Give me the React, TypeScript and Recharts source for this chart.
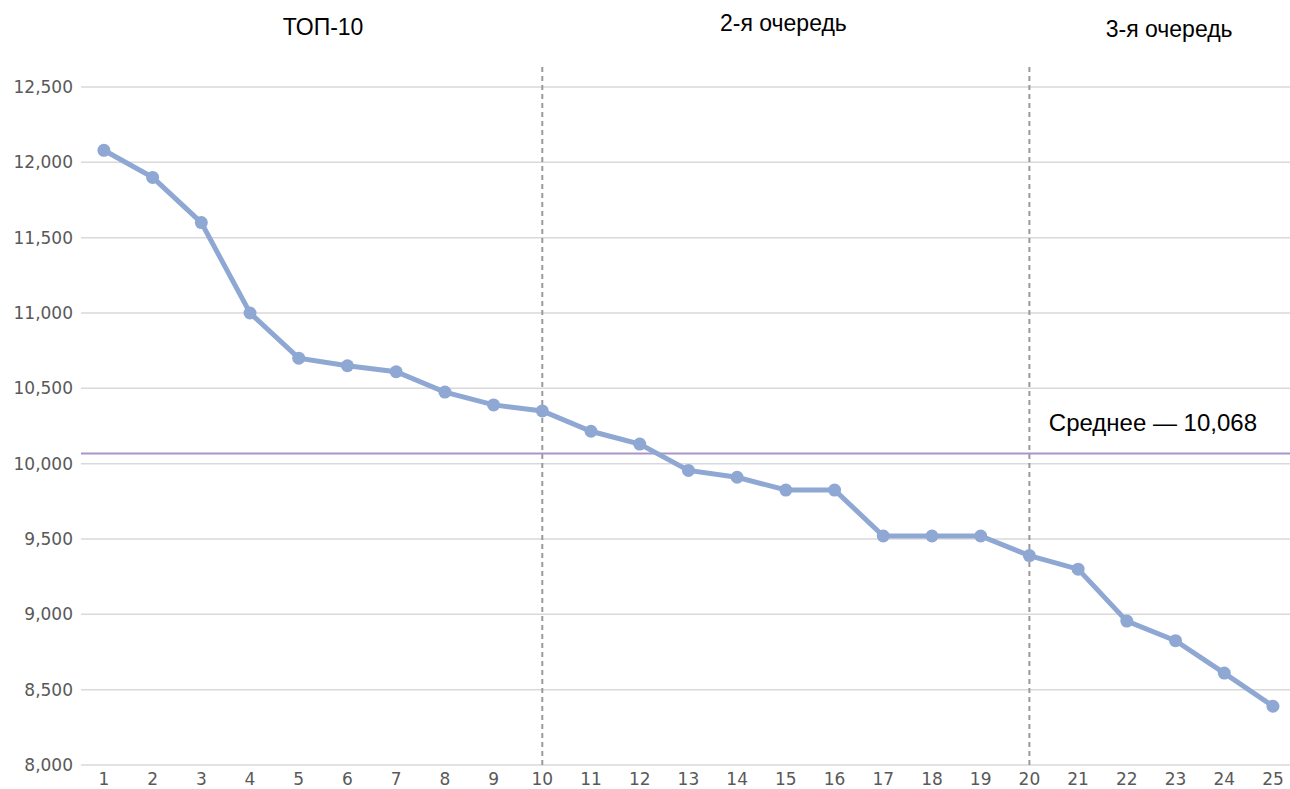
import React from 'react';
import {
  LineChart,
  Line,
  XAxis,
  YAxis,
  CartesianGrid,
  ReferenceLine,
  ReferenceDot,
} from 'recharts';

const ranks = [
  1, 2, 3, 4, 5, 6, 7, 8, 9, 10, 11, 12, 13, 14, 15, 16, 17, 18, 19, 20, 21, 22, 23, 24, 25,
];
const scores = [
  12080, 11900, 11600, 11000, 10700, 10650, 10610, 10475, 10390, 10350, 10215, 10130, 9955,
  9910, 9825, 9825, 9520, 9520, 9520, 9390, 9300, 8955, 8825, 8610, 8390,
];
const yTicks = [8000, 8500, 9000, 9500, 10000, 10500, 11000, 11500, 12000, 12500];
const average = 10068;
const groupBreaks = [10, 20];
const groupTitles = ['ТОП-10', '2-я очередь', '3-я очередь'];

const data = ranks.map((r, i) => ({ rank: r, score: scores[i] }));

const fmt = (v: number) => v.toLocaleString('en-US');

const lineColor = '#8FA7D3';
const tickStyle = { fill: '#595959', fontSize: 17, fontFamily: 'DejaVu Sans' };
const titleFont = 'Liberation Sans';

const TitleLabel = (text: string) => (props: any) => {
  const { viewBox } = props;
  const cx = viewBox.x + (viewBox.width || 0) / 2;
  const cy = viewBox.y + (viewBox.height || 0) / 2;
  return (
    <text
      x={cx}
      y={cy}
      textAnchor="middle"
      dominantBaseline="central"
      fill="#000"
      fontSize={23}
      fontFamily={titleFont}
    >
      {text}
    </text>
  );
};

const AverageLabel = (props: any) => {
  const { viewBox } = props;
  return (
    <text
      x={viewBox.x + viewBox.width - 33}
      y={viewBox.y - 31}
      textAnchor="end"
      dominantBaseline="central"
      fill="#000"
      fontSize={24}
      fontFamily={titleFont}
    >
      {`Среднее — ${fmt(average)}`}
    </text>
  );
};

export default function App() {
  return (
    <div style={{ position: 'absolute', left: 0, top: 0, width: 1290, height: 789, background: '#fff' }}>
      <LineChart
        width={1290}
        height={789}
        data={data}
        margin={{ top: 87, right: 0, bottom: 0, left: 0 }}
      >
        <CartesianGrid horizontal vertical={false} stroke="#D9D9D9" strokeWidth={1.5} />
        <XAxis
          dataKey="rank"
          type="number"
          domain={[0.53, 25.35]}
          ticks={ranks}
          interval={0}
          axisLine={false}
          tickLine={false}
          tickSize={6}
          tickMargin={2}
          height={24}
          tick={tickStyle}
          allowDataOverflow
        />
        <YAxis
          type="number"
          domain={[8000, 12500]}
          ticks={yTicks}
          interval={0}
          axisLine={false}
          tickLine={false}
          width={81}
          tick={tickStyle}
          tickFormatter={fmt}
        />
        {groupBreaks.map((b) => (
          <ReferenceLine
            key={b}
            segment={[
              { x: b, y: 8000 },
              { x: b, y: 12633 },
            ]}
            ifOverflow="visible"
            stroke="#9A9A9A"
            strokeWidth={2}
            strokeDasharray="5 4"
          />
        ))}
        <ReferenceLine
          y={average}
          stroke="#A996C8"
          strokeWidth={2}
          label={AverageLabel}
        />
        <ReferenceDot x={5.5} y={12898} r={0} ifOverflow="visible" label={TitleLabel(groupTitles[0])} />
        <ReferenceDot x={14.95} y={12924} r={0} ifOverflow="visible" label={TitleLabel(groupTitles[1])} />
        <ReferenceDot x={22.87} y={12884} r={0} ifOverflow="visible" label={TitleLabel(groupTitles[2])} />
        <Line
          type="linear"
          dataKey="score"
          stroke={lineColor}
          strokeWidth={5}
          dot={{ r: 6.5, fill: lineColor, stroke: lineColor, strokeWidth: 0 }}
          isAnimationActive={false}
        />
      </LineChart>
    </div>
  );
}
